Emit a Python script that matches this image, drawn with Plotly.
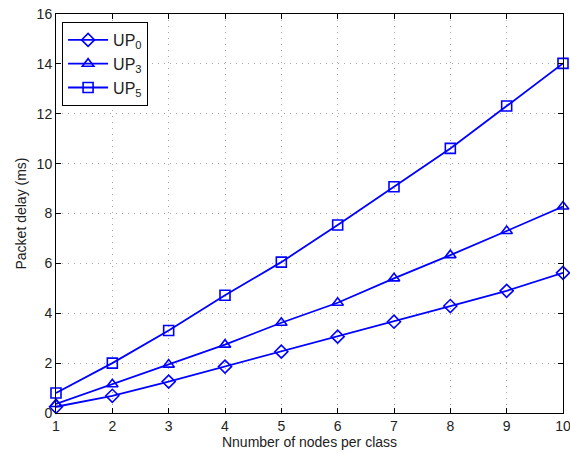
import plotly.graph_objects as go

nodes = [1, 2, 3, 4, 5, 6, 7, 8, 9, 10]
up0 = [0.25, 0.69, 1.26, 1.86, 2.46, 3.06, 3.66, 4.29, 4.90, 5.62]
up3 = [0.36, 1.15, 1.94, 2.74, 3.62, 4.42, 5.40, 6.33, 7.30, 8.28]
up5 = [0.80, 2.00, 3.31, 4.72, 6.05, 7.54, 9.07, 10.61, 12.31, 14.02]
x_ticks = [1, 2, 3, 4, 5, 6, 7, 8, 9, 10]
y_ticks = [0, 2, 4, 6, 8, 10, 12, 14, 16]

series = [
    ("UP<sub>0</sub>", up0, "diamond-open"),
    ("UP<sub>3</sub>", up3, "triangle-up-open"),
    ("UP<sub>5</sub>", up5, "square-open"),
]

fig = go.Figure()
for name, vals, sym in series:
    fig.add_trace(go.Scatter(
        x=nodes, y=vals, name=name, mode="lines+markers",
        line=dict(color="#0000ff", width=1.8),
        marker=dict(symbol=sym, size=10, color="#0000ff", line=dict(width=1.6, color="#0000ff")),
        cliponaxis=False,
    ))

axis_common = dict(
    showline=True, linecolor="black", linewidth=1, mirror="ticks",
    ticks="inside", ticklen=5, tickcolor="black",
    showgrid=True, gridcolor="#a8a8a8", griddash="1px,5px", gridwidth=1,
    zeroline=False, tickfont=dict(size=14, color="#222"),
    ticklabeloverflow="allow", automargin=False,
)

fig.update_layout(
    width=570, height=454,
    margin=dict(l=56, r=7, t=14, b=41),
    paper_bgcolor="white", plot_bgcolor="white",
    font=dict(family="Liberation Sans, Arial, sans-serif", color="#222"),
    xaxis=dict(range=[1, 10], tickvals=x_ticks,
               title=dict(text="Nnumber of nodes per class", font=dict(size=14), standoff=3),
               **axis_common),
    yaxis=dict(range=[0, 16], tickvals=y_ticks,
               title=dict(text="Packet delay (ms)", font=dict(size=14), standoff=6),
               **axis_common),
    legend=dict(x=0.012, y=0.98, xanchor="left", yanchor="top",
                bordercolor="black", borderwidth=1, bgcolor="white",
                font=dict(size=16, color="#222"), tracegroupgap=0,
                itemwidth=40),
    showlegend=True,
)

fig.write_html("out.html", config={"displayModeBar": False},
               post_script="document.body.style.margin='0';document.body.style.overflow='hidden';")
